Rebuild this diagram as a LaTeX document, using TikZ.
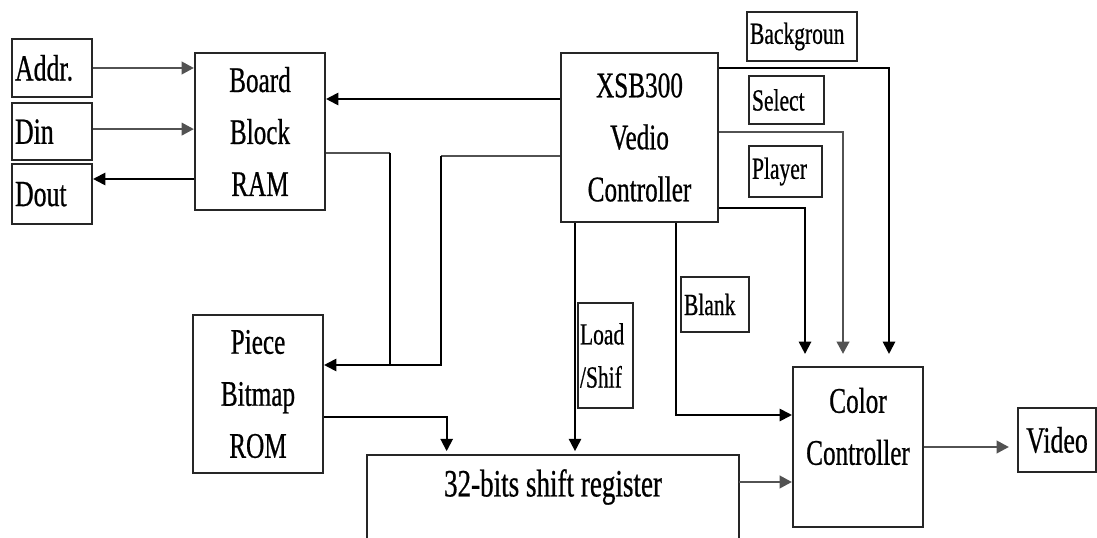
\documentclass[tikz,border=0pt]{standalone}
\usepackage{fontspec}
\setmainfont{Liberation Serif}[FakeStretch=0.7,FakeBold=0.6]
\usepackage{tikz}
\usetikzlibrary{arrows.meta,positioning,calc}
\tikzset{
	block/.style={draw=black!85, line width=1.2pt, align=center, inner sep=0pt,
		font=\fontsize{20.5}{29.6}\selectfont},
	tag/.style={draw=black!85, line width=1.2pt, align=left, inner ysep=0pt, inner xsep=0.06cm,
		font=\fontsize{17.5}{24.5}\selectfont},
	iotag/.style={tag, font=\fontsize{21}{25}\selectfont},
	arrow/.style={-{Triangle[length=7pt,width=7pt]}, line width=1.1pt, black},
	grayarrow/.style={-{Triangle[length=7pt,width=7pt]}, line width=1.6pt, black!68},
	wire/.style={line width=1.1pt, black},
	graywire/.style={line width=1.6pt, black!68}
}
\begin{document}
\begin{tikzpicture}[x=0.02cm, y=0.02cm]
	\useasboundingbox (0,0) rectangle (1097,537);
	\clip (0,0) rectangle (1097,537);
	
	%% -- inputs and RAM (left)
	\node[iotag, text width=1.48cm, minimum height=1.16cm] (addr) at (52,469) {Addr.};
	\node[iotag, text width=1.48cm, minimum height=1.14cm, below=0.08cm of addr] (din) {Din};
	\node[iotag, text width=1.48cm, minimum height=1.2cm, below=0.04cm of din] (dout) {Dout};
	\node[block, minimum width=2.6cm, minimum height=3.14cm] (board) at (260,405.5) {Board\\Block\\RAM};
	\node[block, minimum width=2.6cm, minimum height=3.16cm] (piece) at (258,143) {Piece\\Bitmap\\ROM};
	
	%% -- controller and its signals
	\node[block, minimum width=3.14cm, minimum height=3.38cm] (xsb) at (639.5,399.5) {XSB300\\Vedio\\Controller};
	\node[tag, text width=2.08cm, minimum height=0.98cm] (bg) at (802,500.5) {Backgroun};
	\node[tag, text width=1.38cm, minimum height=0.96cm] (sel) at (786.5,437) {Select};
	\node[tag, text width=1.34cm, minimum height=1.02cm] (play) at (785.5,365.5) {Player};
	\node[tag, text width=1.24cm, minimum height=1.1cm] (blank) at (715,232.5) {Blank};
	\node[tag, inner xsep=0.04cm, text width=1.02cm, minimum height=2.1cm] (load) at (605.5,181.5) {Load\\/Shif};
	
	%% -- output side
	\node[font=\fontsize{22}{26}\selectfont, minimum width=7.44cm, minimum height=1.28cm, inner sep=0pt] (shreg) at (553,50) {32-bits shift register};
	\draw[line width=1.2pt, black!85] ([yshift=-2cm]shreg.north west) -- (shreg.north west)
	-- (shreg.north east) -- ([yshift=-2cm]shreg.north east);
	\node[block, minimum width=2.6cm, minimum height=3.2cm] (color) at (858,90) {Color\\Controller\\[-6pt]\mbox{}};
	\node[iotag, align=center, text width=1.44cm, minimum height=1.28cm] (video) at (1057,97) {Video};
	
	%% -- RAM ports
	\draw[grayarrow] (addr.east) -- (addr.east -| board.west);
	\draw[grayarrow] ([yshift=0.05cm]din.east) -- ([yshift=0.05cm]din.east -| board.west);
	\draw[arrow] ([yshift=-0.95cm]board.west) -- ([yshift=-0.95cm]board.west -| dout.east);
	
	\coordinate (xin) at ([yshift=0.77cm]xsb.west);
	\draw[arrow] (xin) -- (xin -| board.east);
	
	%% -- feeds into the bitmap ROM
	\coordinate (pin) at ([yshift=0.58cm]piece.east);
	\coordinate (bout) at ([yshift=-0.43cm]board.east);
	\coordinate (xout) at ([yshift=-0.37cm]xsb.west);
	\coordinate (jx) at ($(pin)+(117,0)$);
	\coordinate (jb) at ($(pin)+(66,0)$);
	\draw[graywire] (xout) -- (xout -| jx);
	\draw[arrow] (xout -| jx) -- (jx) -- (pin);
	\draw[graywire] (bout) -- (bout -| jb);
	\draw[wire] (bout -| jb) -- (jb);
	
	%% -- into the shift register
	\coordinate (sin) at ([xshift=1.6cm]shreg.north west);
	\draw[arrow, shorten >=2pt] ([yshift=-0.46cm]piece.east) -| (sin);
	\coordinate (xl) at ([xshift=-1.29cm]xsb.south);
	\draw[arrow, shorten >=2pt] (xl) -- (xl |- shreg.north);
	
	%% -- into the color controller
	\coordinate (xb) at ([xshift=0.73cm]xsb.south);
	\draw[arrow] (xb) |- ([yshift=0.64cm]color.west);
	\coordinate (cs) at ([yshift=-0.7cm]color.west);
	\draw[grayarrow] (cs -| shreg.east) -- (cs);
	
	\coordinate (tbg) at ([xshift=0.62cm]color.north);
	\coordinate (tsel) at ([xshift=-0.3cm]color.north);
	\coordinate (tplay) at ([xshift=-1.06cm]color.north);
	\draw[arrow, shorten >=0.24cm] ([yshift=1.39cm]xsb.east) -| (tbg);
	\draw[grayarrow, shorten >=0.24cm] ([yshift=0.11cm]xsb.east) -| (tsel);
	\draw[arrow, shorten >=0.24cm] ([yshift=-1.41cm]xsb.east) -| (tplay);
	
	\draw[grayarrow, shorten >=0.16cm] (color.east) -- (color.east -| video.west);
	
\end{tikzpicture}
\end{document}
